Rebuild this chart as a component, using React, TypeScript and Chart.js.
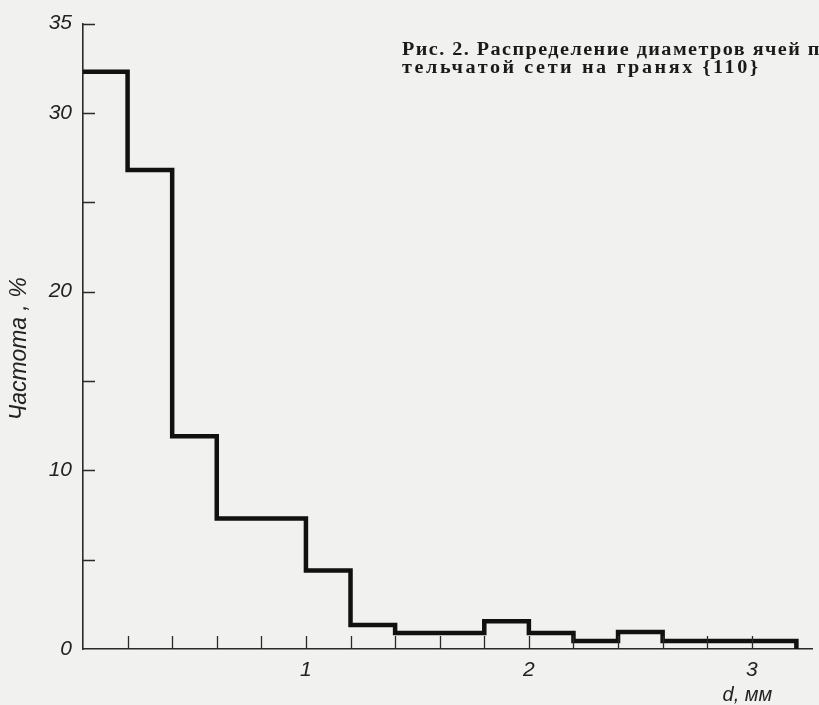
import React, { useEffect, useRef } from "react";
import { Chart, registerables } from "chart.js";

Chart.register(...registerables);

// Bin edges of the histogram, d in mm
const binEdges = [0, 0.2, 0.4, 0.6, 0.8, 1.0, 1.2, 1.4, 1.6, 1.8, 2.0, 2.2, 2.4, 2.6, 2.8, 3.0, 3.2];
// Frequency (%) of each bin
const frequency = [32.3, 26.8, 11.9, 7.3, 7.3, 4.4, 1.35, 0.9, 0.9, 1.55, 0.9, 0.45, 0.95, 0.45, 0.45, 0.45];
// Tick marks
const yTickValues = [0, 5, 10, 15, 20, 25, 30, 35];
const yTickLabels: Record<number, string> = { 0: "0", 10: "10", 20: "20", 30: "30", 35: "35" };
const xTickValues = [1, 2, 3];
const xTickLabels = ["1", "2", "3"];
const xMinorTicks = [0.2, 0.4, 0.6, 0.8, 1.0, 1.2, 1.4, 1.6, 1.8, 2.0, 2.2, 2.4, 2.6, 2.8, 3.0];

const yAxisTitle = "Частота , %";
const xAxisTitle = "d, мм";
const captionLines = [
  "Рис. 2. Распределение диаметров ячей п",
  "тельчатой сети на гранях {110}",
];

const AXIS_COLOR = "#2a2a2a";
const LINE_COLOR = "#111111";
const TICK_FONT = { family: "'Liberation Sans', sans-serif", size: 21, style: "italic" as const };

const innerTicks = {
  id: "innerTicks",
  afterDraw(chart: any) {
    const { ctx, chartArea, scales } = chart;
    const x = scales.x;
    const y = scales.y;
    ctx.save();
    ctx.strokeStyle = AXIS_COLOR;
    ctx.lineWidth = 1.3;
    ctx.beginPath();
    for (const v of yTickValues) {
      if (v === 0) continue;
      const py = Math.round(y.getPixelForValue(v)) + 0.5;
      ctx.moveTo(chartArea.left, py);
      ctx.lineTo(chartArea.left + 12, py);
    }
    for (const v of xMinorTicks) {
      const px = Math.round(x.getPixelForValue(v)) + 0.5;
      ctx.moveTo(px, chartArea.bottom);
      ctx.lineTo(px, chartArea.bottom - 13);
    }
    ctx.stroke();
    ctx.fillStyle = "#222";
    ctx.textAlign = "center";
    ctx.textBaseline = "middle";
    // x axis title
    ctx.font = "italic 20px 'Liberation Sans', sans-serif";
    ctx.fillText(xAxisTitle, x.getPixelForValue(2.98), chartArea.bottom + 46);
    // y axis title
    ctx.translate(20, y.getPixelForValue(16.8));
    ctx.rotate(-Math.PI / 2);
    ctx.font = "italic 23px 'Liberation Sans', sans-serif";
    ctx.fillText(yAxisTitle, 0, 0);
    ctx.restore();
  },
};

export default function App() {
  const ref = useRef<HTMLCanvasElement | null>(null);

  useEffect(() => {
    if (!ref.current) return;
    const points = binEdges.map((e, i) => ({ x: e, y: i === 0 ? frequency[0] : frequency[i - 1] }));
    points.push({ x: binEdges[binEdges.length - 1], y: 0 });
    const chart = new Chart(ref.current, {
      type: "line",
      data: {
        datasets: [
          {
            data: points,
            stepped: "after",
            borderColor: LINE_COLOR,
            borderWidth: 4.5,
            pointRadius: 0,
            borderJoinStyle: "miter",
            borderCapStyle: "butt",
            fill: false,
            clip: false as any,
          },
        ],
      },
      options: {
        animation: false,
        responsive: false,
        maintainAspectRatio: false,
        layout: { padding: { left: 0, right: 7, top: 22, bottom: 0 } },
        plugins: { legend: { display: false }, tooltip: { enabled: false } },
        scales: {
          x: {
            type: "linear",
            min: 0,
            max: 3.27,
            grid: { display: false, drawTicks: false },
            border: { display: true, color: AXIS_COLOR, width: 1.6 },
            afterBuildTicks: (s: any) => {
              s.ticks = xTickValues.map((v) => ({ value: v }));
            },
            afterFit: (s: any) => {
              s.height = 56;
            },
            ticks: {
              color: "#222",
              font: TICK_FONT,
              padding: 9,
              maxRotation: 0,
              autoSkip: false,
              callback: (v: any) => {
                const i = xTickValues.indexOf(Number(v));
                return i >= 0 ? xTickLabels[i] : "";
              },
            },
          },
          y: {
            type: "linear",
            min: 0,
            max: 35,
            grid: { display: false, drawTicks: false },
            border: { display: true, color: AXIS_COLOR, width: 1.6 },
            afterBuildTicks: (s: any) => {
              s.ticks = yTickValues.map((v) => ({ value: v }));
            },
            afterFit: (s: any) => {
              s.width = 83;
            },
            ticks: {
              color: "#222",
              font: TICK_FONT,
              padding: 11,
              autoSkip: false,
              callback: (v: any) => yTickLabels[Number(v)] ?? "",
            },
          },
        },
      },
      plugins: [innerTicks],
    });
    return () => chart.destroy();
  }, []);

  return (
    <div
      style={{
        position: "fixed",
        left: 0,
        top: 0,
        width: 819,
        height: 705,
        overflow: "hidden",
        background: "#f1f1f0",
      }}
    >
      <canvas ref={ref} width={819} height={705} style={{ display: "block" }} />
      <div
        style={{
          position: "absolute",
          left: 402,
          top: 40,
          whiteSpace: "nowrap",
          fontFamily: "'Liberation Serif', serif",
          fontWeight: "bold",
          fontSize: 18,
          lineHeight: "18px",
          color: "#1a1a1a",
          transform: "scaleX(1.12)",
          transformOrigin: "left top",
        }}
      >
        {captionLines.map((l, i) => (
          <div key={i} style={{ letterSpacing: i === 0 ? 1.3 : 2.3 }}>
            {l}
          </div>
        ))}
      </div>
    </div>
  );
}
